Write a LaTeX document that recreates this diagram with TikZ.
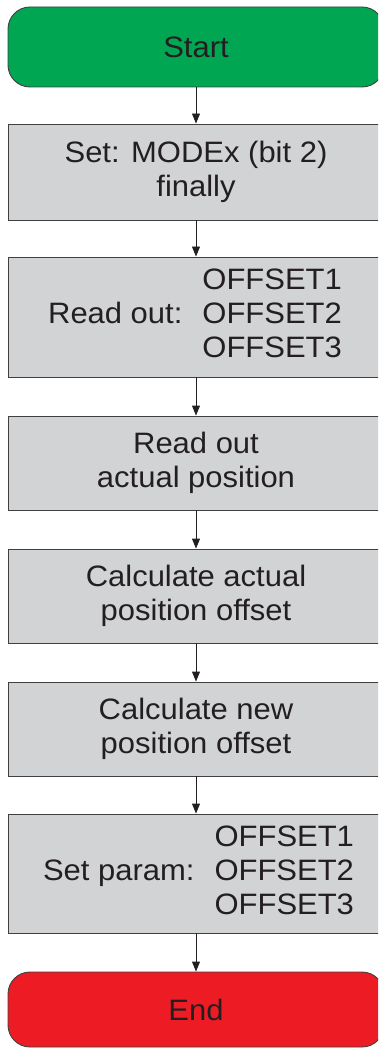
\documentclass[tikz,border=0pt]{standalone}
\usepackage{fontspec}
\setmainfont{Liberation Sans}[FakeStretch=1.05]
\usetikzlibrary{arrows.meta}
\definecolor{startgreen}{HTML}{00A651}
\definecolor{endred}{HTML}{ED1C24}
\definecolor{boxgray}{HTML}{D1D3D4}
\definecolor{edgegray}{HTML}{404041}
\definecolor{txt}{HTML}{231F20}
\tikzset{
  x=1pt, y=1pt,
  base/.style={draw=edgegray, line width=0.9pt, text=txt, minimum width=376pt,
    align=center, inner sep=0pt, font=\fontsize{29.5}{34}\selectfont},
  term/.style={base, rounded corners=22pt},
  stepbox/.style={base, fill=boxgray},
  conn/.style={draw=txt, line width=0.9pt, -{Triangle[length=10pt,width=8pt]}}
}
\begin{document}
\begin{tikzpicture}
\useasboundingbox (0,0) rectangle (378,-1048);
\clip (0,0) rectangle (378,-1048);
\node[term, fill=startgreen, minimum height=80pt] (start) at (196,-47) {Start};
\node[stepbox, minimum height=96pt] (b1) at (196,-172) {Set: MODEx (bit 2)\\finally};
\node[stepbox, minimum height=120pt] (b2) at (196,-317) {};
\node[font=\fontsize{29.5}{34}\selectfont, text=txt, inner sep=0pt] (t2) at (195,-317)
  {\begin{tabular}{@{}r@{\hspace{20pt}}l@{}}&OFFSET1\\Read out:&OFFSET2\\&OFFSET3\end{tabular}};
\node[stepbox, minimum height=94pt] (b3) at (196,-463) {Read out\\actual position};
\node[stepbox, minimum height=94pt] (b4) at (196,-596) {Calculate actual\\position offset};
\node[stepbox, minimum height=94pt] (b5) at (196,-729) {Calculate new\\position offset};
\node[stepbox, minimum height=119pt] (b6) at (196,-873.5) {};
\node[font=\fontsize{29.5}{34}\selectfont, text=txt, inner sep=0pt] (t6) at (198.5,-873.5)
  {\begin{tabular}{@{}r@{\hspace{20pt}}l@{}}&OFFSET1\\Set param:&OFFSET2\\&OFFSET3\end{tabular}};
\node[term, fill=endred, minimum height=75pt] (end) at (196,-1009.5) {End};
\draw[conn] (start) -- (b1);
\draw[conn] (b1) -- (b2);
\draw[conn] (b2) -- (b3);
\draw[conn] (b3) -- (b4);
\draw[conn] (b4) -- (b5);
\draw[conn] (b5) -- (b6);
\draw[conn] (b6) -- (end);
\end{tikzpicture}
\end{document}
